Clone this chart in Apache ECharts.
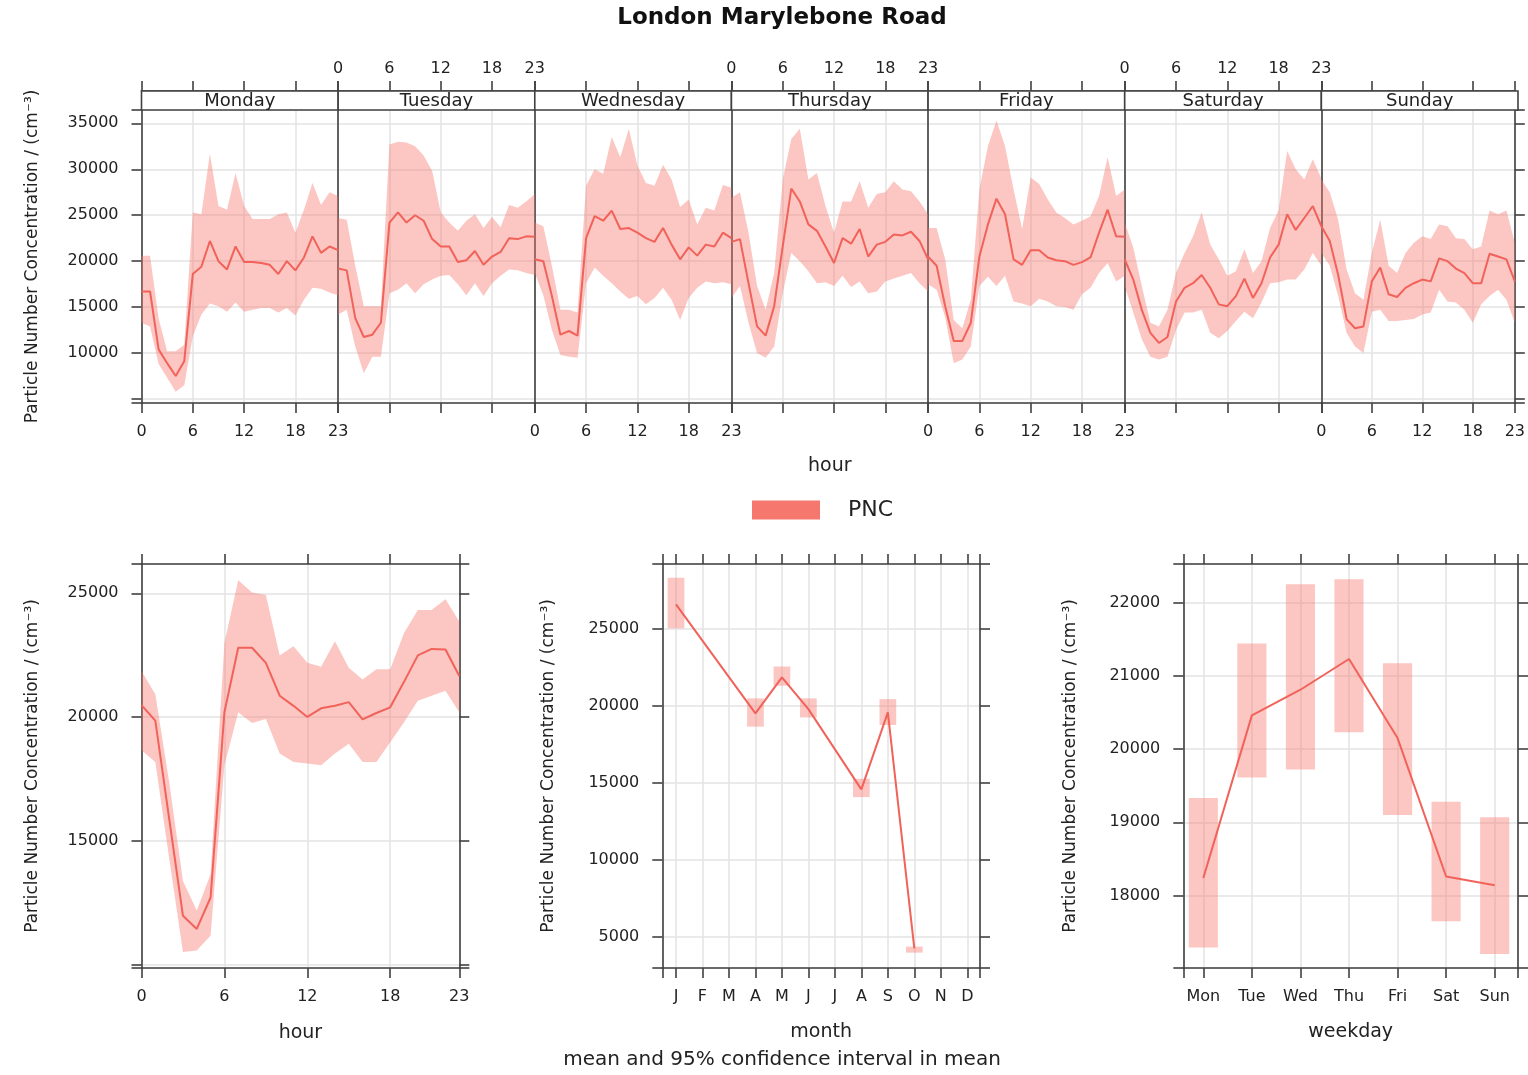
<!DOCTYPE html>
<html><head><meta charset="utf-8">
<script src="https://cdn.jsdelivr.net/npm/echarts@6/dist/echarts.min.js"></script>
<style>html,body{margin:0;padding:0;background:#fff}#c{width:1528px;height:1075px}</style>
</head><body><div id="c"></div>
<script>
// ---------------- data ----------------
const hours = [0,1,2,3,4,5,6,7,8,9,10,11,12,13,14,15,16,17,18,19,20,21,22,23];
const dayNames = ['Monday','Tuesday','Wednesday','Thursday','Friday','Saturday','Sunday'];

const mondayMean  = [16700,16700,10400,8900,7500,9100,18600,19400,22200,20000,19100,21600,19900,19900,19800,19600,18600,20000,19000,20400,22700,20900,21600,21200];
const mondayUpper = [20600,20600,13800,10200,10200,10900,25300,25100,31700,26000,25600,29600,26000,24600,24600,24600,25100,25300,23100,25600,28500,26100,27500,27100];
const mondayLower = [13300,12900,8800,7300,5800,6500,11800,14200,15400,15100,14500,15500,14500,14700,14900,14900,14400,14900,14100,15800,17100,17000,16600,16300];

const tuesdayMean  = [19200,19000,13800,11750,12000,13300,24200,25300,24200,25000,24400,22400,21600,21600,19900,20100,21100,19600,20500,21000,22500,22400,22700,22650];
const tuesdayUpper = [24700,24500,19500,15100,15100,15100,32700,33000,32900,32500,31500,29800,25300,24200,23300,24400,25100,23600,24800,23700,26100,25800,26500,27300];
const tuesdayLower = [14200,14700,10700,7800,9600,9600,16500,16900,17600,16500,17500,18000,18400,18500,17500,16300,17600,16200,17600,18400,19100,19000,18700,18500];

const wednesdayMean  = [20200,20000,16200,12000,12400,11900,22500,24900,24400,25500,23500,23600,23100,22500,22100,23600,21800,20200,21500,20600,21800,21600,23100,22500];
const wednesdayUpper = [24200,23800,19500,14700,14700,14400,28200,30000,29500,33500,31300,34400,30400,28500,28200,30500,28900,25900,26700,24000,25800,25500,28300,28000];
const wednesdayLower = [18700,16300,12500,9800,9600,9500,17600,19300,18400,17600,16700,15900,16200,15300,16000,17100,15800,13600,16000,17100,17800,17600,17700,17500];

const thursdayMean  = [22100,22400,17600,12900,11900,15100,21600,27900,26500,24000,23300,21600,19800,22500,21900,23500,20500,21800,22100,22900,22800,23200,22200,20200];
const thursdayUpper = [26900,27500,23100,17300,14700,18700,28900,33300,34400,28900,29600,26000,23100,26500,26500,28700,25800,27300,27500,28700,27800,27600,26500,25100];
const thursdayLower = [16000,17300,13300,10000,9500,10700,16500,20900,20000,18900,17600,17700,17300,18400,17200,17800,16500,16700,17800,18100,18400,18700,17600,16700];

const fridayMean  = [20500,19500,15100,11300,11300,13300,20500,24000,26800,25100,20200,19600,21200,21200,20400,20100,20000,19600,19900,20400,23100,25600,22700,22650];
const fridayUpper = [23600,23600,20200,13600,12700,15800,27800,32500,35300,32500,27800,23500,29100,28400,26700,25300,24700,24000,24400,24900,27100,31300,27100,27800];
const fridayLower = [17500,16900,13900,8900,9300,10700,17300,18300,17300,18400,15600,15400,15100,15900,15600,15100,15000,14700,16400,17100,18700,19800,17800,18400];

const saturdayMean  = [20200,18000,14700,12200,11100,11750,15600,17100,17600,18500,17100,15300,15100,16200,18100,16000,17600,20400,21800,25100,23400,24700,26000,23800];
const saturdayUpper = [24200,21500,17300,13300,12900,14700,18700,20900,22700,25300,21800,20200,18400,18900,21300,18700,20000,23600,25500,32000,30000,28900,31100,29000];
const saturdayLower = [17300,14400,11500,9600,9300,9600,12500,14400,14400,14700,12200,11600,12400,13500,14500,13800,15500,17600,17700,18000,18000,19100,20900,19500];

const sundayMean  = [23800,22200,18500,13700,12700,12900,17800,19300,16400,16100,17100,17600,18000,17800,20300,20000,19200,18700,17600,17600,20800,20500,20200,17800];
const sundayUpper = [28900,27500,24500,19100,16500,15800,20900,24500,19500,18700,20900,22000,22700,22400,24000,23800,22500,22400,21300,21600,25500,25100,25500,22000];
const sundayLower = [20900,19500,16200,12200,10700,10000,14500,14700,13500,13500,13600,13700,14200,14400,16900,15600,15500,14700,13300,15300,16200,16900,15800,13300];

const hourMean  = [20480,19850,15900,11960,11430,12700,20190,22800,22800,22190,20860,20450,20000,20350,20450,20600,19900,20160,20390,21420,22490,22750,22730,21660];
const hourUpper = [21860,20920,17380,13370,12170,13640,22990,25530,25030,24930,22490,22860,22190,22030,23060,21990,21520,21930,21930,23400,24330,24330,24760,23860];
const hourLower = [18650,18180,14300,10500,10560,11160,18050,20190,19760,19920,18520,18180,18120,18050,18520,18920,18180,18180,18980,19790,20660,20860,21060,20190];

const months     = ['Jan','Feb','Mar','Apr','May','Jun','Jul','Aug','Sep','Oct','Nov','Dec'];
const monthMean  = [26590,null,null,19500,21840,19780,null,14560,19570,4230,null,null];
const monthLower = [25030,null,null,18640,21300,19240,null,14060,18750,3950,null,null];
const monthUpper = [28320,null,null,20480,22550,20480,null,15250,20430,4340,null,null];

const weekdays     = ['Mon','Tue','Wed','Thu','Fri','Sat','Sun'];
const weekdayMean  = [18240,20460,20810,21230,20150,18260,18140];
const weekdayLower = [17290,19610,19720,20230,19100,17650,17200];
const weekdayUpper = [19330,21440,22250,22320,21170,19280,19070];

const hourTickLabels = [0,6,12,18,23];
const yName = 'Particle Number Concentration / (cm\u207B\u00B3)';

// ---------------- style ----------------
const LINE = '#F1625A', BAND = 'rgba(248,118,109,0.42)', AX = '#404040', GRID = '#e3e3e3', TXT = '#222';
const FONT = 'DejaVu Sans, Verdana, sans-serif';

const dayData = [
  [mondayMean, mondayLower, mondayUpper],
  [tuesdayMean, tuesdayLower, tuesdayUpper],
  [wednesdayMean, wednesdayLower, wednesdayUpper],
  [thursdayMean, thursdayLower, thursdayUpper],
  [fridayMean, fridayLower, fridayUpper],
  [saturdayMean, saturdayLower, saturdayUpper],
  [sundayMean, sundayLower, sundayUpper]
];

const grid = [], xAxis = [], yAxis = [], series = [], graphic = [];

function axis(o) {
  const a = {
    type: 'value', gridIndex: o.g, position: o.pos, min: o.min, max: o.max,
    offset: o.offset || 0,
    axisLine: {show: true, onZero: false, lineStyle: {color: AX, width: 1.6}},
    axisTick: {show: o.ticks !== false, inside: false, length: 10, lineStyle: {color: AX, width: 1.6}},
    axisLabel: {show: !!o.labels, margin: o.margin || 8, color: TXT, fontSize: 16, fontFamily: FONT},
    splitLine: {show: !!o.split, lineStyle: {color: GRID, width: 1.5}}
  };
  if (o.fmt) a.axisLabel.formatter = o.fmt;
  if (o.interval != null) a.interval = o.interval;
  if (o.step != null) { a.minInterval = o.step; a.maxInterval = o.step; }
  if (o.name) {
    a.name = o.name; a.nameLocation = 'middle'; a.nameGap = o.nameGap;
    if (o.rot != null) a.nameRotate = o.rot;
    a.nameTextStyle = {fontSize: o.nameSize || 19, color: TXT, fontFamily: FONT};
  }
  return a;
}
// category hour axis (0..23, no padding), ticks/labels at 0,6,12,18,23
const hourShown = (idx) => hourTickLabels.indexOf(hours[idx]) >= 0;
function hourAxis(o) {
  const a = axis(o);
  a.type = 'category'; a.data = hours; a.boundaryGap = false;
  delete a.min; delete a.max;
  a.axisLabel.interval = hourShown; a.axisTick.interval = hourShown; a.splitLine.interval = hourShown;
  return a;
}
const fmtStep = (step, lo) => v => (Math.abs(v % step) < 1e-6 && v >= lo - 1e-6) ? String(Math.round(v)) : '';

function band(xi, yi, lower, upper, key) {
  series.push({type: 'line', xAxisIndex: xi, yAxisIndex: yi, stack: key, symbol: 'none', silent: true,
    lineStyle: {opacity: 0}, data: lower.slice()});
  series.push({type: 'line', xAxisIndex: xi, yAxisIndex: yi, stack: key, symbol: 'none', silent: true,
    lineStyle: {opacity: 0}, areaStyle: {color: BAND, opacity: 1},
    data: upper.map((u, k) => u - lower[k])});
}
function meanLine(xi, yi, pts) {
  series.push({name: 'PNC', type: 'line', xAxisIndex: xi, yAxisIndex: yi, symbol: 'none', z: 4,
    lineStyle: {color: LINE, width: 2}, itemStyle: {color: LINE}, data: pts});
}
function ciRect(frac) {
  return function (params, api) {
    const x = api.value(0), lo = api.value(1), hi = api.value(2);
    const a = api.coord([x, hi]), b = api.coord([x, lo]);
    const w = api.size([1, 0])[0] * frac;
    return {type: 'rect', shape: {x: a[0] - w / 2, y: a[1], width: w, height: b[1] - a[1]}, style: {fill: BAND}};
  };
}

// ---------------- top: hour x weekday panels ----------------
const TL = 141.5, TR = 1518, TT = 110, TB = 403, STRIP = 19;
const PW = (TR - TL) / 7;
dayNames.forEach((d, i) => {
  const L = TL + i * PW;
  const g = grid.length;
  grid.push({left: L, top: TT, width: PW, height: TB - TT});
  const xb = xAxis.length;
  xAxis.push(hourAxis({g, pos: 'bottom', labels: i % 2 === 0, margin: 21, split: true,
    name: i === 3 ? 'hour' : '', nameGap: 54}));
  xAxis.push(hourAxis({g, pos: 'top', labels: i % 2 === 1, margin: 14, offset: STRIP}));
  const yl = yAxis.length;
  yAxis.push(axis({g, pos: 'left', min: 4565, max: 36450, step: 5000, labels: i === 0, ticks: i === 0, margin: 23,
    split: true, fmt: fmtStep(5000, 10000), name: i === 0 ? yName : '', nameGap: 100, rot: 90, nameSize: 17}));
  if (i === 6) yAxis.push(axis({g, pos: 'right', min: 4565, max: 36450, step: 5000}));
  const [m, lo, hi] = dayData[i];
  band(xb, yl, lo, hi, 'day' + i);
  meanLine(xb, yl, m.slice());
  graphic.push({type: 'rect', z: 10, shape: {x: L, y: TT - STRIP, width: PW, height: STRIP},
    style: {fill: '#fff', stroke: AX, lineWidth: 1.6}});
  graphic.push({type: 'text', z: 11, x: L + PW / 2, y: TT - STRIP / 2 + 1,
    style: {text: d, textAlign: 'center', align: 'center', textVerticalAlign: 'middle', verticalAlign: 'middle',
      fontSize: 18, fontFamily: FONT, fill: TXT}});
});

// ---------------- bottom-left: hour ----------------
const BT = 564, BB = 968;
{
  const g = grid.length;
  grid.push({left: 141.5, top: BT, width: 459.3 - 141.5, height: BB - BT});
  const xb = xAxis.length;
  xAxis.push(hourAxis({g, pos: 'bottom', labels: true, margin: 21, split: true, name: 'hour', nameGap: 56}));
  xAxis.push(hourAxis({g, pos: 'top'}));
  const yl = yAxis.length;
  yAxis.push(axis({g, pos: 'left', min: 9850, max: 26185, step: 5000, labels: true, margin: 23, split: true,
    fmt: fmtStep(5000, 15000), name: yName, nameGap: 100, rot: 90, nameSize: 17}));
  yAxis.push(axis({g, pos: 'right', min: 9850, max: 26185, step: 5000}));
  band(xb, yl, hourLower, hourUpper, 'hour');
  meanLine(xb, yl, hourMean.slice());
}

// ---------------- bottom-middle: month ----------------
{
  const g = grid.length;
  grid.push({left: 662.3, top: BT, width: 980 - 662.3, height: BB - BT});
  const fmtM = v => Math.abs(v - Math.round(v)) < 1e-6 && months[Math.round(v)] ? months[Math.round(v)].charAt(0) : '';
  const xb = xAxis.length;
  xAxis.push(axis({g, pos: 'bottom', min: -0.517, max: 11.48, step: 1, labels: true, margin: 21, split: true, fmt: fmtM, name: 'month', nameGap: 55}));
  xAxis.push(axis({g, pos: 'top', min: -0.517, max: 11.48, step: 1}));
  const yl = yAxis.length;
  yAxis.push(axis({g, pos: 'left', min: 2950, max: 29215, step: 5000, labels: true, margin: 23, split: true,
    fmt: fmtStep(5000, 5000), name: yName, nameGap: 105, rot: 90, nameSize: 17}));
  yAxis.push(axis({g, pos: 'right', min: 2950, max: 29215, step: 5000}));
  const idx = months.map((m, k) => k).filter(k => monthMean[k] != null);
  series.push({type: 'custom', xAxisIndex: xb, yAxisIndex: yl, renderItem: ciRect(0.63), silent: true,
    encode: {x: 0, y: [1, 2]}, data: idx.map(k => [k, monthLower[k], monthUpper[k]])});
  meanLine(xb, yl, idx.map(k => [k, monthMean[k]]));
}

// ---------------- bottom-right: weekday ----------------
{
  const g = grid.length;
  grid.push({left: 1183.3, top: BT, width: 1518 - 1183.3, height: BB - BT});
  const fmtW = v => Math.abs(v - Math.round(v)) < 1e-6 && weekdays[Math.round(v) - 1] ? weekdays[Math.round(v) - 1] : '';
  const xb = xAxis.length;
  xAxis.push(axis({g, pos: 'bottom', min: 0.588, max: 7.48, step: 1, labels: true, margin: 21, split: true, fmt: fmtW, name: 'weekday', nameGap: 55}));
  xAxis.push(axis({g, pos: 'top', min: 0.588, max: 7.48, step: 1}));
  const yl = yAxis.length;
  yAxis.push(axis({g, pos: 'left', min: 17010, max: 22527, step: 1000, labels: true, margin: 23, split: true,
    fmt: fmtStep(1000, 18000), name: yName, nameGap: 104, rot: 90, nameSize: 17}));
  yAxis.push(axis({g, pos: 'right', min: 17010, max: 22527, step: 1000}));
  series.push({type: 'custom', xAxisIndex: xb, yAxisIndex: yl, renderItem: ciRect(0.60), silent: true,
    encode: {x: 0, y: [1, 2]}, data: weekdays.map((w, k) => [k + 1, weekdayLower[k], weekdayUpper[k]])});
  meanLine(xb, yl, weekdays.map((w, k) => [k + 1, weekdayMean[k]]));
}

// ---------------- titles ----------------
graphic.push({type: 'text', x: 782, y: 18, style: {text: 'London Marylebone Road', textAlign: 'center', align: 'center',
  textVerticalAlign: 'middle', verticalAlign: 'middle', fontSize: 23, fontWeight: 'bold', fontFamily: FONT, fill: '#111'}});
graphic.push({type: 'text', x: 782, y: 1060, style: {text: 'mean and 95% confidence interval in mean', textAlign: 'center', align: 'center',
  textVerticalAlign: 'middle', verticalAlign: 'middle', fontSize: 20, fontFamily: FONT, fill: TXT}});

const chart = echarts.init(document.getElementById('c'), null, {renderer: 'canvas'});
chart.setOption({
  animation: false,
  backgroundColor: '#fff',
  textStyle: {fontFamily: FONT},
  legend: {
    data: [{name: 'PNC', icon: 'rect', itemStyle: {color: '#F6776E', borderWidth: 0}}],
    left: 752, top: 499, padding: 0, itemWidth: 68, itemHeight: 19, selectedMode: false,
    textStyle: {fontSize: 22, color: TXT, fontFamily: FONT, padding: [0, 0, 0, 23]}
  },
  grid, xAxis, yAxis, series, graphic
});
</script></body></html>
